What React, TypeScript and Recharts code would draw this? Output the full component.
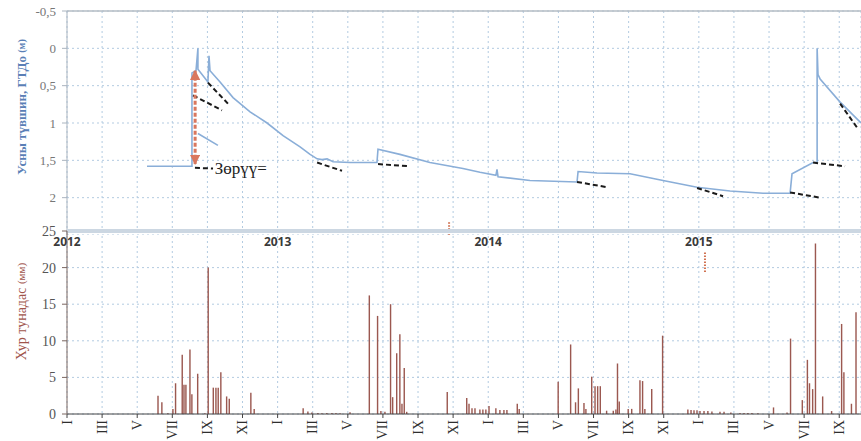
import React from 'react';
import { LineChart, Line, ComposedChart, Bar, XAxis, YAxis, CartesianGrid, ReferenceLine, ReferenceDot } from 'recharts';

// months counted from January 2012
const X_MAX = 45.24;
const monthTicks = [0, 2, 4, 6, 8, 10, 12, 14, 16, 18, 20, 22, 24, 26, 28, 30, 32, 34, 36, 38, 40, 42, 44];
const romanLabels = ['I', 'III', 'V', 'VII', 'IX', 'XI'];
const yearStarts = [0, 12, 24, 36];
const yearLabels = ['2012', '2013', '2014', '2015'];

const depthTicks = [-0.5, 0, 0.5, 1, 1.5, 2];
const rainTicks = [0, 5, 10, 15, 20, 25];

// groundwater depth (m), main record
const levelMonth = [4.56, 7.01, 7.12, 7.12, 7.35, 7.46, 7.46, 8.03, 8.09, 8.15, 8.72, 9.46, 10.43, 11.4, 12.31, 13.28, 13.85, 14.25, 14.53, 14.82, 15.16, 16.13, 17.66, 17.72, 18.97, 20.68, 22.56, 23.53, 24.44, 24.5, 24.56, 26.38, 29.06, 29.12, 30.2, 32.08, 33.96, 35.9, 37.78, 39.66, 41.2, 41.31, 42.51, 42.74, 42.74, 42.79, 42.91, 44.05, 45.24];
const levelDepth = [1.58, 1.58, 1.58, 0.33, 0.3, 0.0, 0.28, 0.45, 0.1, 0.3, 0.45, 0.66, 0.85, 1.0, 1.17, 1.32, 1.42, 1.48, 1.49, 1.48, 1.52, 1.53, 1.53, 1.35, 1.42, 1.53, 1.61, 1.66, 1.7, 1.62, 1.72, 1.77, 1.79, 1.65, 1.67, 1.68, 1.77, 1.86, 1.91, 1.94, 1.94, 1.68, 1.53, 1.53, 0.0, 0.35, 0.41, 0.72, 1.0];

// short separate piece of record
const pieceMonth = [7.46, 8.6];
const pieceDepth = [1.14, 1.3];

// recession trend lines [m1, d1, m2, d2]
const trendLines = [
  [8.03, 0.46, 9.17, 0.74],
  [7.18, 0.63, 8.83, 0.83],
  [14.25, 1.53, 15.67, 1.64],
  [17.72, 1.55, 19.54, 1.58],
  [29.06, 1.79, 30.77, 1.86],
  [35.9, 1.87, 37.38, 1.98],
  [41.2, 1.93, 42.91, 2.0],
  [42.51, 1.53, 44.33, 1.58],
  [44.05, 0.74, 45.01, 1.06],
  [7.29, 1.6, 8.32, 1.61],
];

// rise difference arrow
const arrowMonth = 7.3;
const arrowTop = 0.3;
const arrowBottom = 1.55;
const diffLabel = 'Зөрүү=';
const diffLabelAt = { m: 8.3, d: 1.6 };

// daily precipitation (mm)
const rainMonth = [5.19, 5.41, 5.75, 6.04, 6.19, 6.57, 6.67, 6.78, 7.01, 7.12, 7.45, 7.86, 8.05, 8.34, 8.49, 8.62, 8.77, 9.1, 9.25, 10.48, 10.67, 13.46, 13.73, 13.96, 14.3, 14.53, 14.81, 15.1, 15.33, 15.56, 16.13, 17.23, 17.7, 17.89, 18.12, 18.44, 18.56, 18.79, 18.97, 19.09, 19.22, 19.36,
  21.67, 22.78, 22.91, 23.08, 23.25, 23.53, 23.7, 23.87, 24.05, 24.44, 24.67, 24.9, 25.07, 25.66, 25.77, 27.99, 28.7, 28.98, 29.14, 29.46, 29.57, 29.9, 30.09, 30.24, 30.39, 30.75, 31.13, 31.28, 31.37, 31.47, 31.98, 32.18, 32.65, 32.8, 32.93, 33.32, 33.94,
  35.38, 35.56, 35.73, 35.9, 36.07, 36.3, 36.52, 36.75, 37.21, 37.44, 37.83, 38.35, 38.58, 38.8, 39.03, 39.37, 40.26, 41.03, 41.23, 41.9, 42.19, 42.31, 42.49, 42.65, 43.06, 43.57, 44.14, 44.27, 44.7, 44.96];
const rainMm = [2.5, 1.6, 0.1, 0.7, 4.2, 8.1, 4.0, 4.0, 8.8, 2.7, 5.5, 0.1, 20.0, 3.6, 3.6, 3.6, 5.7, 2.4, 2.1, 2.9, 0.7, 0.8, 0.35, 0.2, 0.15, 0.1, 0.15, 0.15, 0.15, 0.1, 0.25, 16.2, 13.4, 0.4, 0.3, 15.0, 2.3, 8.3, 10.9, 1.4, 6.3, 0.3,
  3.0, 2.2, 1.4, 0.8, 0.8, 0.6, 0.6, 0.6, 1.1, 0.8, 0.55, 0.55, 0.55, 1.4, 0.7, 4.4, 9.5, 1.6, 3.5, 1.5, 0.7, 5.1, 3.8, 3.8, 3.8, 0.45, 0.45, 0.6, 6.9, 1.7, 0.7, 0.7, 4.6, 4.5, 0.7, 3.4, 10.7,
  0.6, 0.55, 0.5, 0.5, 0.4, 0.4, 0.4, 0.35, 0.3, 0.3, 0.2, 0.15, 0.15, 0.15, 0.15, 0.1, 0.9, 0.2, 10.3, 1.9, 7.4, 4.2, 3.4, 23.3, 2.4, 0.4, 12.3, 5.7, 1.4, 13.9];

// red dotted marks
const topMark = { m: 21.77, from: 2.33, to: 2.5 };
const bottomMark = { m: 36.35, from: 19.4, to: 22.1 };

const levelData = levelMonth.map((m, i) => ({ m, d: levelDepth[i] }));
const pieceData = pieceMonth.map((m, i) => ({ m, d: pieceDepth[i] }));
const rainData = rainMonth.map((m, i) => ({ m, r: rainMm[i] }));

const GRID = '#b3cbe1';
const SERIF = '"Liberation Serif", "DejaVu Serif", serif';

const commaFmt = (v: number) => String(v).replace('.', ',');

const MonthTick = (props: any) => {
  const { x, y, payload } = props;
  const label = romanLabels[(payload.value % 12) / 2];
  return (
    <text x={x} y={y} transform={`rotate(-90 ${x} ${y})`} textAnchor="end" dominantBaseline="central"
      fontFamily={SERIF} fontSize={14} fill="#2e2e2e">
      {label}
    </text>
  );
};

const TopTitle = (props: any) => {
  const { x, y, height } = props.viewBox;
  const cx = x + 21;
  const cy = y + height / 2 - 16;
  return (
    <text x={cx} y={cy} transform={`rotate(-90 ${cx} ${cy})`} textAnchor="middle" dominantBaseline="central"
      fontFamily={SERIF} fontWeight="bold" fontSize={13} fill="#5a7fb6">
      Усны түвшин, ГТДо <tspan fontSize={10}>(м)</tspan>
    </text>
  );
};

const BottomTitle = (props: any) => {
  const { x, y, height } = props.viewBox;
  const cx = x + 21;
  const cy = y + height / 2 - 11;
  return (
    <text x={cx} y={cy} transform={`rotate(-90 ${cx} ${cy})`} textAnchor="middle" dominantBaseline="central"
      fontFamily={SERIF} fontSize={14} fill="#a0544b">
      Хур тунадас <tspan fontSize={11}>(мм)</tspan>
    </text>
  );
};

export default function App() {
  return (
    <div style={{ position: 'absolute', left: 0, top: 0, width: 861, height: 441, background: '#fff', overflow: 'hidden', fontFamily: SERIF }}>
      <div style={{ position: 'absolute', left: 0, top: 0 }}>
        <LineChart width={861} height={235} margin={{ top: 11, right: 0, bottom: 0, left: 0 }}>
          <defs>
            <marker id="arrowHead" viewBox="0 0 10 10" refX="9" refY="5" markerWidth="3.4" markerHeight="3.4" orient="auto-start-reverse">
              <path d="M0,0 L10,5 L0,10 z" fill="#d9775e" />
            </marker>
          </defs>
          <CartesianGrid stroke={GRID} strokeDasharray="2 3" />
          <XAxis type="number" dataKey="m" domain={[0, X_MAX]} ticks={monthTicks} hide allowDataOverflow />
          <YAxis type="number" dataKey="d" reversed domain={[-0.5, 2.5]} ticks={depthTicks} width={67}
            tickFormatter={commaFmt} tickSize={5} tickMargin={6} interval={0}
            stroke="#aab4bf" tick={{ fill: '#777', fontSize: 13, fontFamily: SERIF }}
            label={{ content: TopTitle }} />
          <ReferenceLine y={-0.5} stroke="#b4bcc5" strokeWidth={1.5} />
          <Line data={levelData} dataKey="d" type="linear" stroke="#8aaed8" strokeWidth={1.6} dot={false} isAnimationActive={false} />
          <Line data={pieceData} dataKey="d" type="linear" stroke="#8aaed8" strokeWidth={1.6} dot={false} isAnimationActive={false} />
          {trendLines.map((s, i) => (
            <ReferenceLine key={i} segment={[{ x: s[0], y: s[1] }, { x: s[2], y: s[3] }]}
              stroke="#1a1a1a" strokeWidth={2} strokeDasharray="5 3" />
          ))}
          <ReferenceLine segment={[{ x: arrowMonth, y: arrowTop }, { x: arrowMonth, y: arrowBottom }]}
            stroke="#d9775e" strokeWidth={3} strokeDasharray="4 2" markerStart="url(#arrowHead)" markerEnd="url(#arrowHead)" />
          <ReferenceDot x={diffLabelAt.m} y={diffLabelAt.d} r={0} stroke="none" fill="none"
            label={{ value: diffLabel, position: 'right', offset: 2, fill: '#222', fontSize: 17, fontFamily: SERIF }} />
          <ReferenceLine segment={[{ x: topMark.m, y: topMark.from }, { x: topMark.m, y: topMark.to }]}
            stroke="#d0704f" strokeWidth={2} strokeDasharray="1.5 1.5" />
        </LineChart>
      </div>
      <div style={{ position: 'absolute', left: 0, top: 220 }}>
        <ComposedChart width={861} height={221} data={rainData} margin={{ top: 11, right: 0, bottom: 0, left: 0 }}>
          <CartesianGrid stroke={GRID} strokeDasharray="2 3" />
          <XAxis type="number" dataKey="m" domain={[0, X_MAX]} ticks={monthTicks} interval={0} height={27}
            tick={<MonthTick />} tickSize={4} tickMargin={2} stroke="#444" allowDataOverflow />
          <YAxis type="number" domain={[0, 25]} ticks={rainTicks} width={67} interval={0}
            tickSize={5} tickMargin={6} stroke="#7a6660"
            tick={{ fill: '#555', fontSize: 14, fontFamily: SERIF }}
            label={{ content: BottomTitle }} />
          <ReferenceLine y={25} stroke="#ccd7e2" strokeWidth={4} />
          {yearStarts.map((m, i) => (
            <ReferenceLine key={m} x={m} stroke="none"
              label={{ value: yearLabels[i], position: 'insideTop', offset: 6, fill: '#3a3a3a', fontSize: 12, fontWeight: 'bold', fontFamily: '"Noto Sans", sans-serif' }} />
          ))}
          <Bar dataKey="r" fill="#9b5850" barSize={3} isAnimationActive={false} />
          <ReferenceLine segment={[{ x: bottomMark.m, y: bottomMark.from }, { x: bottomMark.m, y: bottomMark.to }]}
            stroke="#d0704f" strokeWidth={2} strokeDasharray="1.5 1.5" />
        </ComposedChart>
      </div>
    </div>
  );
}
